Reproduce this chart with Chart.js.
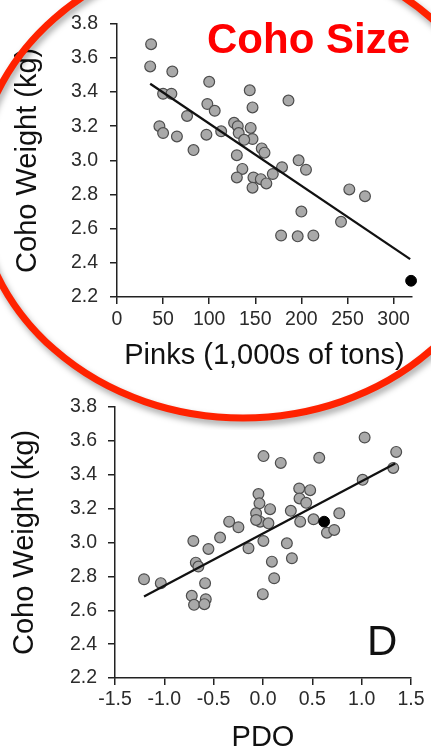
<!DOCTYPE html>
<html><head><meta charset="utf-8">
<script src="https://cdn.jsdelivr.net/npm/chart.js@4/dist/chart.umd.min.js"></script>
<style>
html,body{margin:0;padding:0;background:#fff;width:431px;height:754px;overflow:hidden}
#c1{position:absolute;left:0;top:0;z-index:2}
#c2{position:absolute;left:0;top:380px;z-index:1}
</style></head><body>
<canvas id="c1" width="431" height="430"></canvas>
<canvas id="c2" width="431" height="374"></canvas>
<script>
// ---- Panel 1: Coho weight vs Pinks ----
const pinksX = [37,36,60,50,59,100,144,186,98,106,147,76,46,50,65,97,113,83,127,131,132,145,147,138,157,160,130,136,130,148,156,147,162,169,179,197,205,252,269,200,178,196,213,243];
const pinksWeight = [3.68,3.55,3.52,3.39,3.39,3.46,3.41,3.35,3.33,3.29,3.31,3.26,3.20,3.16,3.14,3.15,3.17,3.06,3.22,3.20,3.16,3.19,3.125,3.12,3.07,3.045,3.03,2.95,2.90,2.90,2.89,2.84,2.865,2.92,2.96,3.00,2.945,2.83,2.79,2.70,2.56,2.555,2.56,2.64];
const pinksHighlightX = [319];
const pinksHighlightY = [2.295];
const pinksTrendX = [36,318];
const pinksTrendY = [3.448,2.422];
const pinksTicks = [0,50,100,150,200,250,300];
const pinksTickLabels = ['0','50','100','150','200','250','300'];

// ---- Panel 2: Coho weight vs PDO ----
const pdoX = [1.03,1.35,1.32,1.01,0.005,0.18,0.57,-0.046,-0.036,0.367,0.478,0.37,0.438,0.072,0.282,-0.07,-0.029,-0.07,0.055,-0.343,-0.249,0.377,0.512,0.773,0.648,0.722,-0.706,-0.435,-0.553,-0.147,0.004,0.242,0.293,0.09,-0.681,-0.655,0.113,-1.206,-1.036,-0.587,-0.722,-0.58,-0.699,-0.594,-0.002];
const pdoWeight = [3.62,3.535,3.44,3.37,3.51,3.47,3.50,3.286,3.231,3.319,3.309,3.26,3.234,3.197,3.187,3.172,3.123,3.133,3.113,3.123,3.09,3.123,3.137,3.172,3.058,3.074,3.009,3.029,2.962,2.966,3.009,2.995,2.907,2.887,2.881,2.858,2.789,2.783,2.76,2.76,2.685,2.665,2.632,2.636,2.695];
const pdoHighlightX = [0.62];
const pdoHighlightY = [3.123];
const pdoTrendX = [-1.206,1.34];
const pdoTrendY = [2.681,3.466];
const pdoTicks = [-1.5,-1.0,-0.5,0.0,0.5,1.0,1.5];
const pdoTickLabels = ['-1.5','-1.0','-0.5','0.0','0.5','1.0','1.5'];

// ---- shared y axis ----
const weightTicks = [2.2,2.4,2.6,2.8,3.0,3.2,3.4,3.6,3.8];
const weightTickLabels = ['2.2','2.4','2.6','2.8','3.0','3.2','3.4','3.6','3.8'];

const FAM = "'Liberation Sans', Arial, Helvetica, sans-serif";
const pts = (xs, ys) => xs.map((x, i) => ({x, y: ys[i]}));

function makeDatasets(xs, ys, hx, hy, tx, ty) {
  return [
    {type:'line', data: pts(tx, ty), borderColor:'#111', borderWidth:2.3, pointRadius:0, fill:false, order:0, clip:false},
    {type:'scatter', data: pts(hx, hy), pointRadius:5.4, backgroundColor:'#000', borderColor:'#000', borderWidth:1, order:1, clip:false},
    {type:'scatter', data: pts(xs, ys), pointRadius:5.4, backgroundColor:'#a9a9a9', borderColor:'#4d4d4d', borderWidth:1.2, order:2, clip:false}
  ];
}

function axisStyle(extra) {
  return Object.assign({
    type:'linear',
    grid:{display:true, drawOnChartArea:false, drawTicks:true, tickLength:7, color:'#222', lineWidth:1.5},
    border:{display:true, color:'#222', width:1.5},
  }, extra);
}

function makeOptions(cfg) {
  return {
    responsive:false, animation:false, events:[],
    layout:{padding:cfg.padding},
    plugins:{legend:{display:false}, tooltip:{enabled:false}},
    scales:{
      x: axisStyle({
        min:cfg.xmin, max:cfg.xmax,
        afterFit(s){ s.height = cfg.xh; },
        afterBuildTicks(s){ s.ticks = cfg.xTicks.map(v => ({value:v})); },
        ticks:{autoSkip:false, maxRotation:0, padding:cfg.xPad, color:'#2b2b2b', font:{family:FAM, size:19.5},
               callback:(v, i) => cfg.xLabels[i]},
        title:{display:true, text:cfg.xTitle, color:'#111', font:{family:FAM, size:29, lineHeight:1}, padding:{top:0, bottom:cfg.xTitlePad}}
      }),
      y: axisStyle({
        min:2.2, max:3.8,
        afterFit(s){ s.width = cfg.yw; },
        afterBuildTicks(s){ s.ticks = weightTicks.map(v => ({value:v})); },
        ticks:{autoSkip:false, padding:cfg.yPad, color:'#2b2b2b', font:{family:FAM, size:19.5},
               callback:(v, i) => weightTickLabels[i]},
        title:{display:true, text:'Coho Weight (kg)', color:'#111', font:{family:FAM, size:29, lineHeight:1}, padding:{top:cfg.yTitlePad, bottom:0}}
      })
    }
  };
}

const decorTop = {
  id:'decorTop',
  afterDraw(chart) {
    const ctx = chart.ctx;
    ctx.save();
    ctx.fillStyle = '#ff0000';
    ctx.font = "bold 42px " + FAM;
    ctx.textBaseline = 'alphabetic';
    ctx.textAlign = 'left';
    ctx.fillText('Coho Size', 207, 53);
    ctx.restore();
    ctx.save();
    ctx.shadowColor = 'rgba(0,0,0,0.35)';
    ctx.shadowBlur = 6;
    ctx.shadowOffsetX = 2;
    ctx.shadowOffsetY = 4;
    ctx.strokeStyle = '#ff2200';
    ctx.lineWidth = 7;
    ctx.beginPath();
    ctx.ellipse(243, 184, 267, 234, 0, 0, Math.PI * 2);
    ctx.stroke();
    ctx.restore();
  }
};

const decorBottom = {
  id:'decorBottom',
  afterDraw(chart) {
    const ctx = chart.ctx;
    ctx.save();
    ctx.fillStyle = '#111';
    ctx.font = "42px " + FAM;
    ctx.textBaseline = 'alphabetic';
    ctx.fillText('D', 367, 275);
    ctx.restore();
  }
};

new Chart(document.getElementById('c1'), {
  type:'scatter',
  data:{datasets: makeDatasets(pinksX, pinksWeight, pinksHighlightX, pinksHighlightY, pinksTrendX, pinksTrendY)},
  options: makeOptions({
    padding:{left:0, right:19, top:22, bottom:50},
    xmin:0, xmax:320, xh:83, xTicks:pinksTicks, xLabels:pinksTickLabels, xPad:4,
    xTitle:'Pinks (1,000s of tons)', xTitlePad:9.5, yw:117, yPad:12, yTitlePad:13.5
  }),
  plugins:[decorTop]
});

new Chart(document.getElementById('c2'), {
  type:'scatter',
  data:{datasets: makeDatasets(pdoX, pdoWeight, pdoHighlightX, pdoHighlightY, pdoTrendX, pdoTrendY)},
  options: makeOptions({
    padding:{left:0, right:20, top:27, bottom:0},
    xmin:-1.5, xmax:1.5, xh:76, xTicks:pdoTicks, xLabels:pdoTickLabels, xPad:3,
    xTitle:'PDO', xTitlePad:1.5, yw:115, yPad:11, yTitlePad:10.5
  }),
  plugins:[decorBottom]
});
</script>
</body></html>
